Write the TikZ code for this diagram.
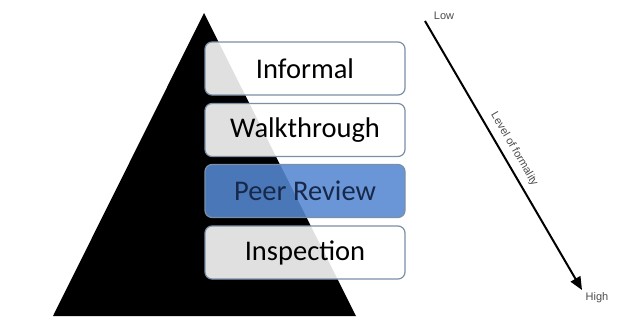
\documentclass[tikz,border=0pt]{standalone}
\usepackage{fontspec}
\setmainfont{Carlito}
\newfontfamily\arialfont{Liberation Sans}
\usetikzlibrary{arrows.meta,positioning}
\definecolor{boxedge}{HTML}{7B8FA6}
\definecolor{peerblue}{HTML}{5588D2}
\definecolor{peertext}{HTML}{17294A}

\begin{document}
\begin{tikzpicture}[x=1pt,y=-1pt,>={Triangle[length=13pt,width=11pt]},
 level/.style={draw=boxedge,line width=1.2pt,rounded corners=7pt,fill=white,fill opacity=0.88,text opacity=1,
   minimum width=200pt,minimum height=53pt,inner sep=0pt,font=\fontsize{28.5}{32}\selectfont},
 tag/.style={font=\arialfont\fontsize{11}{13}\selectfont,text=black!70}]
\useasboundingbox (0,0) rectangle (627,327);
\fill[black] (204,13) -- (356,316) -- (53,316) -- cycle;
\node[level] (informal) at (305,68.5) {Informal};
\node[level] (walk) at (305,130) {Walkthrough};
\node[level, fill=peerblue, text=peertext] (peer) at (305,191) {Peer Review};
\node[level] (insp) at (305,252.5) {Inspection};
\coordinate (lowend) at (425,21);
\coordinate (highend) at (582,290);
\node[tag] (low) at (444,16) {Low};
\node[tag] (high) at (597,298) {High};
\draw[->,line width=2pt] (lowend) -- (highend)
  node[tag, midway, sloped, above=3pt] (formality) {Level of formality};
\end{tikzpicture}
\end{document}
